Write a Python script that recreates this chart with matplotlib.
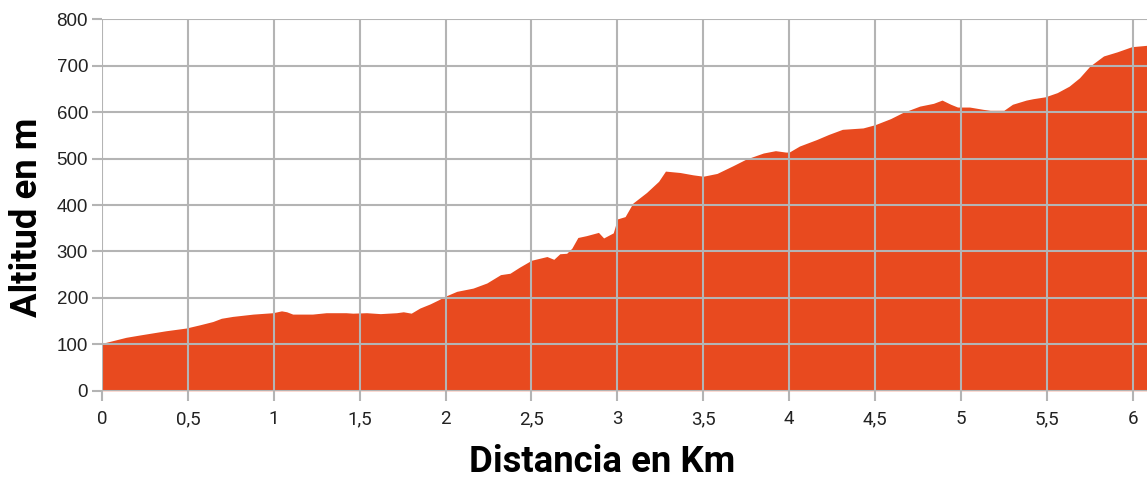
import matplotlib
matplotlib.use("Agg")
import matplotlib.pyplot as plt
from matplotlib.ticker import FuncFormatter

# Distance (km) and altitude (m)
distance_km = [0.0, 0.14, 0.22, 0.37, 0.49, 0.57, 0.645, 0.695, 0.76, 0.88, 0.995,
               1.045, 1.075, 1.11, 1.225, 1.305, 1.42, 1.46, 1.54, 1.62, 1.715, 1.754,
               1.80, 1.85, 1.91, 1.96, 1.995, 2.065, 2.16, 2.24, 2.32, 2.375, 2.43,
               2.50, 2.59, 2.63, 2.665, 2.705, 2.735, 2.77, 2.82, 2.89, 2.92, 2.976,
               3.0, 3.045, 3.09, 3.17, 3.24, 3.28, 3.365, 3.44, 3.50, 3.58, 3.675,
               3.75, 3.85, 3.92, 3.98, 4.0, 4.06, 4.16, 4.23, 4.31, 4.43, 4.50, 4.59,
               4.66, 4.76, 4.84, 4.89, 4.94, 4.98, 5.05, 5.13, 5.17, 5.25, 5.30, 5.38,
               5.42, 5.49, 5.56, 5.63, 5.69, 5.75, 5.83, 5.91, 5.994, 6.083]
altitude_m = [102, 115, 120, 129, 135, 142, 149, 156, 160, 165, 168,
              172, 170, 165, 165, 168, 168, 167, 168, 166, 168, 170,
              167, 178, 187, 196, 203, 214, 221, 232, 250, 253, 266,
              281, 289, 283, 295, 296, 307, 330, 334, 341, 329, 340,
              370, 375, 404, 427, 451, 473, 470, 465, 462, 468, 485,
              499, 512, 517, 514, 514, 527, 541, 552, 563, 566, 573, 586,
              599, 613, 619, 626, 617, 611, 611, 606, 604, 604, 617, 626,
              629, 633, 642, 656, 674, 699, 721, 730, 741, 744]

x_ticks = [0, 0.5, 1, 1.5, 2, 2.5, 3, 3.5, 4, 4.5, 5, 5.5, 6]
y_ticks = [0, 100, 200, 300, 400, 500, 600, 700, 800]

fig = plt.figure(figsize=(11.47, 4.8), dpi=100)
ax = fig.add_axes([102 / 1147, (480 - 390.7) / 480, 1 - 102 / 1147, (390.7 - 19.3) / 480])

ax.fill_between(distance_km, altitude_m, 0, color="#E84A1F", linewidth=0, zorder=1)

ax.set_xlim(0, 6.083)
ax.set_ylim(0, 800)
ax.set_xticks(x_ticks)
ax.set_yticks(y_ticks)
ax.xaxis.set_major_formatter(FuncFormatter(lambda v, p: f"{v:g}".replace(".", ",")))

ax.grid(True, color="#B4B4B4", linewidth=1.5, zorder=3)
ax.set_axisbelow(False)
for s in ax.spines.values():
    s.set_visible(False)

ax.tick_params(axis="both", color="#B4B4B4", width=1.5, length=7, colors="#222222")
ax.tick_params(axis="x", pad=7)
ax.tick_params(axis="y", pad=3)
for lbl in ax.get_xticklabels():
    lbl.set_fontfamily("Roboto")
    lbl.set_fontsize(13.5)
for lbl in ax.get_yticklabels():
    lbl.set_fontfamily("Liberation Sans")
    lbl.set_fontsize(13.5)

ax.set_xlabel("Distancia en Km", fontsize=26.3, fontweight="bold", family="Roboto",
              va="baseline")
ax.xaxis.set_label_coords((602.5 - 102) / 1045, (390.7 - 471.7) / 371.4)
ax.set_ylabel("Altitud en m", fontsize=26.3, fontweight="bold", family="Roboto",
              va="baseline")
ax.yaxis.set_label_coords((37.5 - 102) / 1045, (390.7 - 217.5) / 371.4)

fig.savefig("out.png", dpi=100)
